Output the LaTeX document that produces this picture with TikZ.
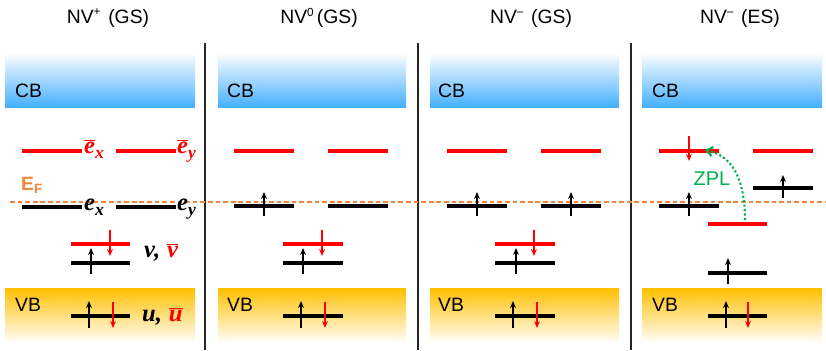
\documentclass[tikz,border=0pt]{standalone}
\usepackage{fontspec}
\setmainfont{Liberation Sans}
\newfontfamily\orbfont{Liberation Serif}
\usetikzlibrary{arrows.meta}
\definecolor{cbblue}{RGB}{70,175,255}
\definecolor{vbgold}{RGB}{255,192,0}
\definecolor{fermi}{RGB}{240,135,60}
\definecolor{zplgreen}{RGB}{0,176,80}
\newcommand{\orbl}[1]{{\orbfont\bfseries\itshape #1}}
\newcommand{\orbbar}[1]{$\overline{\hbox{\orbl{#1}}}$}
\newcommand{\orbsub}[1]{\raisebox{-0.22em}{\fontsize{15}{15}\selectfont\orbl{#1}}}
\newcommand{\chg}[1]{\raisebox{0.38em}{\fontsize{10}{10}\selectfont #1}}
\begin{document}
\begin{tikzpicture}[x=0.03cm,y=-0.03cm,
 level/.style={line width=3pt},
 redlvl/.style={level,draw=red},
 blklvl/.style={level,draw=black},
 upspin/.style={line width=1.2pt,black,-{Stealth[length=6pt,width=5pt]}},
 dnspin/.style={upspin,red},
 title/.style={font=\fontsize{16.5}{20}\selectfont},
 band/.style={font=\fontsize{16.5}{20}\selectfont, anchor=west, inner sep=0pt},
 orb/.style={font=\fontsize{21}{24}\selectfont, inner sep=0pt, anchor=base west},
 sep/.style={line width=1.5pt, draw=black!85},
 cbbox/.style={top color=white,middle color=cbblue!45,bottom color=cbblue},
 vbbox/.style={top color=vbgold,middle color=vbgold!25,bottom color=white},
 zpl/.style={draw=zplgreen,line width=1.8pt,dotted,-{Straight Barb[length=5pt,width=8pt]}},
]
\useasboundingbox (0,0) rectangle (826,350);
% titles
\node[title] (t1) at (108,18) {NV\chg{+}\hspace{0.4em}(GS)};
\node[title] (t2) at (319,18) {NV\chg{0}\,(GS)};
\node[title] (t3) at (531,18) {NV\chg{–}\hspace{0.4em}(GS)};
\node[title] (t4) at (740,18) {NV\chg{–}\hspace{0.4em}(ES)};
% bands
\shade[cbbox] (5,53) rectangle (195,107);
\shade[cbbox] (218,53) rectangle (406,107);
\shade[cbbox] (430,53) rectangle (619,107);
\shade[cbbox] (642,53) rectangle (822,107);
\shade[vbbox] (5,288) rectangle (195,343);
\shade[vbbox] (218,288) rectangle (406,343);
\shade[vbbox] (430,288) rectangle (619,343);
\shade[vbbox] (642,288) rectangle (822,343);
\node[band] (cb1) at (15,91) {CB};
\node[band] (cb2) at (227,91) {CB};
\node[band] (cb3) at (438,91) {CB};
\node[band] (cb4) at (652,91) {CB};
\node[band] (vb1) at (15,305) {VB};
\node[band] (vb2) at (227,305) {VB};
\node[band] (vb3) at (438,305) {VB};
\node[band] (vb4) at (652,305) {VB};
% separators
\draw[sep] (205,43) -- (205,350);
\draw[sep] (418,43) -- (418,350);
\draw[sep] (631,43) -- (631,350);
% Fermi level
\draw[fermi,line width=1.1pt,dash pattern=on 4pt off 2.5pt] (10,202) -- (826,202);
\node[band,text=fermi,font=\fontsize{16.5}{20}\selectfont\bfseries] (ef) at (21,185) {E\textsubscript{F}};
% panel 1
\draw[redlvl] (22,151) -- (82,151);
\draw[redlvl] (116,151) -- (176,151);
\draw[blklvl] (22,207) -- (82,207);
\draw[blklvl] (116,207) -- (176,207);
\draw[redlvl] (71,244) -- (130,244);
\draw[dnspin] (110,230) -- (110,256);
\draw[blklvl] (71,263) -- (130,263);
\draw[upspin] (91,274) -- (91,248);
\draw[blklvl] (71,316) -- (130,316);
\draw[upspin] (89,328) -- (89,301);
\draw[dnspin] (113,302) -- (113,328);
\node[orb,text=red] (lex) at (84,153) {\orbbar{e}\orbsub{x}};
\node[orb,text=red] (ley) at (177,153) {\orbbar{e}\orbsub{y}};
\node[orb] (lbx) at (84,210) {\orbl{e}\orbsub{x}};
\node[orb] (lby) at (177,210) {\orbl{e}\orbsub{y}};
\node[orb] (lv) at (144,257) {\orbl{v,} \textcolor{red}{\orbbar{v}}};
\node[orb] (lu) at (142,321) {\orbl{u,} \textcolor{red}{\orbbar{u}}};
% panel 2
\draw[redlvl] (234,151) -- (294,151);
\draw[redlvl] (328,151) -- (388,151);
\draw[blklvl] (234,206) -- (294,206);
\draw[blklvl] (328,206) -- (388,206);
\draw[upspin] (264,216) -- (264,192);
\draw[redlvl] (283,244) -- (343,244);
\draw[dnspin] (322,230) -- (322,256);
\draw[blklvl] (283,263) -- (343,263);
\draw[upspin] (303,274) -- (303,248);
\draw[blklvl] (283,316) -- (343,316);
\draw[upspin] (301,328) -- (301,301);
\draw[dnspin] (325,302) -- (325,328);
% panel 3
\draw[redlvl] (447,151) -- (507,151);
\draw[redlvl] (541,151) -- (601,151);
\draw[blklvl] (447,206) -- (507,206);
\draw[blklvl] (541,206) -- (601,206);
\draw[upspin] (477,216) -- (477,192);
\draw[upspin] (571,216) -- (571,192);
\draw[redlvl] (495,244) -- (555,244);
\draw[dnspin] (534,230) -- (534,256);
\draw[blklvl] (495,263) -- (555,263);
\draw[upspin] (516,274) -- (516,248);
\draw[blklvl] (495,316) -- (555,316);
\draw[upspin] (513,328) -- (513,301);
\draw[dnspin] (537,302) -- (537,328);
% panel 4
\draw[redlvl] (659,151) -- (719,151);
\draw[dnspin] (689,136) -- (689,161);
\draw[redlvl] (753,151) -- (813,151);
\draw[blklvl] (753,188) -- (813,188);
\draw[upspin] (783,198) -- (783,175);
\draw[blklvl] (659,206) -- (719,206);
\draw[upspin] (689,216) -- (689,192);
\draw[redlvl] (708,224) -- (767,224);
\draw[blklvl] (708,273) -- (767,273);
\draw[upspin] (728,284) -- (728,258);
\draw[blklvl] (708,316) -- (767,316);
\draw[upspin] (726,328) -- (726,301);
\draw[dnspin] (748,302) -- (748,328);
\coordinate (zs) at (745,220);
\coordinate (ze) at (705,150);
\draw[zpl] (zs) .. controls (745,182) and (734,156) .. (ze);
\node[font=\fontsize{17}{20}\selectfont,text=zplgreen] (zl) at (712,179) {ZPL};
\end{tikzpicture}
\end{document}
